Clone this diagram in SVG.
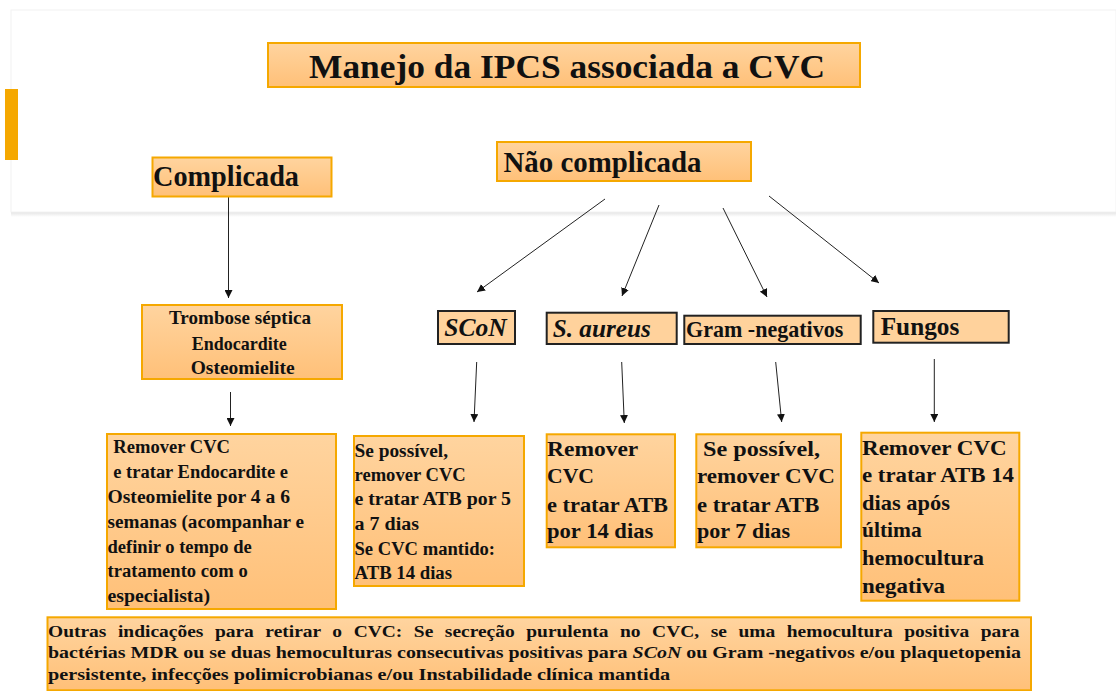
<svg xmlns="http://www.w3.org/2000/svg" width="1116" height="691" viewBox="0 0 1116 691">
<defs>
<linearGradient id="og" x1="0" y1="0" x2="0" y2="1">
<stop offset="0" stop-color="#FFD49F"/>
<stop offset="1" stop-color="#FFC078"/>
</linearGradient>
<linearGradient id="sh" x1="0" y1="0" x2="0" y2="1">
<stop offset="0" stop-color="#e4e4e4"/>
<stop offset="1" stop-color="#ffffff"/>
</linearGradient>
<marker id="ah" viewBox="0 0 10 10" refX="10" refY="5" markerWidth="8" markerHeight="8" markerUnits="userSpaceOnUse" orient="auto">
<path d="M0,0 L10,5 L0,10 z" fill="#111"/>
</marker>
<style>
.t{font-family:"Liberation Serif","Times New Roman",serif;font-weight:bold;fill:#111}
.bx{fill:url(#og);stroke:#F5A800;stroke-width:2}
.kb{fill:#FFD29C;stroke:#222;stroke-width:2}
.ln{stroke:#222;stroke-width:1;fill:none;marker-end:url(#ah)}
</style>
</defs>
<rect width="1116" height="691" fill="#fff"/>
<g id="panel">
<rect x="11" y="212" width="1105" height="5" fill="url(#sh)"/>
<rect x="11" y="10" width="1105" height="202" fill="#fff" stroke="#f2f2f2" stroke-width="1"/>
<rect x="5" y="89" width="13" height="71" fill="#F5A800"/>
</g>
<g id="connectors">
<line class="ln" x1="228.5" y1="197" x2="228.5" y2="298"/>
<line class="ln" x1="230.5" y1="392" x2="230.5" y2="426"/>
<line class="ln" x1="605" y1="199" x2="477" y2="292"/>
<line class="ln" x1="659" y1="205" x2="622" y2="296"/>
<line class="ln" x1="723" y1="208" x2="767" y2="297"/>
<line class="ln" x1="769" y1="196" x2="879" y2="283"/>
<line class="ln" x1="476.7" y1="362" x2="474" y2="422"/>
<line class="ln" x1="621.7" y1="362" x2="624.3" y2="423"/>
<line class="ln" x1="775.7" y1="362" x2="781.7" y2="422"/>
<line class="ln" x1="934.3" y1="359" x2="934.3" y2="422"/>
</g>
<g id="title">
<rect class="bx" x="268" y="43" width="592" height="44"/>
<text class="t" x="309" y="78" font-size="34" textLength="516" lengthAdjust="spacingAndGlyphs">Manejo da IPCS associada a CVC</text>
</g>
<g id="complicada">
<rect class="bx" x="152.5" y="157.5" width="179" height="39"/>
<text class="t" x="153" y="186" font-size="30" textLength="146" lengthAdjust="spacingAndGlyphs">Complicada</text>
</g>
<g id="nao-complicada">
<rect class="bx" x="497" y="142" width="254" height="39"/>
<text class="t" x="503.5" y="172" font-size="30" textLength="198" lengthAdjust="spacingAndGlyphs">Não complicada</text>
</g>
<g id="trombose">
<rect class="bx" x="142" y="305" width="200" height="74"/>
<text class="t" x="169" y="324" font-size="19" textLength="142" lengthAdjust="spacingAndGlyphs">Trombose séptica</text>
<text class="t" x="191.7" y="350" font-size="19" textLength="95" lengthAdjust="spacingAndGlyphs">Endocardite</text>
<text class="t" x="190.7" y="374" font-size="19" textLength="104" lengthAdjust="spacingAndGlyphs">Osteomielite</text>
</g>
<g id="complicada-conduta">
<rect class="bx" x="107" y="434" width="229" height="175"/>
<text class="t" font-size="18.5" x="113.3" y="452.7" textLength="116.7" lengthAdjust="spacingAndGlyphs">Remover CVC</text>
<text class="t" font-size="18.5" x="113.3" y="478.3" textLength="174.7" lengthAdjust="spacingAndGlyphs">e tratar Endocardite e</text>
<text class="t" font-size="18.5" x="107.5" y="503.3" textLength="182.5" lengthAdjust="spacingAndGlyphs">Osteomielite  por 4 a 6</text>
<text class="t" font-size="18.5" x="107.5" y="527.7" textLength="196.5" lengthAdjust="spacingAndGlyphs">semanas (acompanhar e</text>
<text class="t" font-size="18.5" x="107.5" y="553.3" textLength="144.2" lengthAdjust="spacingAndGlyphs">definir o tempo de</text>
<text class="t" font-size="18.5" x="107.5" y="577.3" textLength="140.2" lengthAdjust="spacingAndGlyphs">tratamento com o</text>
<text class="t" font-size="18.5" x="107.5" y="602.3" textLength="102.5" lengthAdjust="spacingAndGlyphs">especialista)</text>
</g>
<g id="scon">
<rect class="kb" x="438" y="311" width="77" height="33"/>
<text class="t" x="444.3" y="336" font-size="26" font-style="italic" textLength="62.4" lengthAdjust="spacingAndGlyphs">SCoN</text>
</g>
<g id="saureus">
<rect class="kb" x="546.7" y="312.7" width="130" height="31.3"/>
<text class="t" x="552.7" y="336.7" font-size="25" font-style="italic" textLength="98" lengthAdjust="spacingAndGlyphs">S. aureus</text>
</g>
<g id="gram">
<rect class="kb" x="684.3" y="315.7" width="176.4" height="28.3"/>
<text class="t" x="686" y="337" font-size="23" textLength="157.3" lengthAdjust="spacingAndGlyphs">Gram -negativos</text>
</g>
<g id="fungos">
<rect class="kb" x="873.3" y="311" width="135.4" height="31.7"/>
<text class="t" x="880.7" y="335" font-size="26" textLength="78.6" lengthAdjust="spacingAndGlyphs">Fungos</text>
</g>
<g id="scon-conduta">
<rect class="bx" x="354" y="436" width="170" height="150"/>
<text class="t" font-size="18.5" x="354.5" y="456.7" textLength="93.5" lengthAdjust="spacingAndGlyphs">Se possível,</text>
<text class="t" font-size="18.5" x="354.5" y="480.7" textLength="111.2" lengthAdjust="spacingAndGlyphs">remover CVC</text>
<text class="t" font-size="18.5" x="354.5" y="505" textLength="156.5" lengthAdjust="spacingAndGlyphs">e tratar ATB por   5</text>
<text class="t" font-size="18.5" x="354.5" y="530" textLength="64.5" lengthAdjust="spacingAndGlyphs">a 7   dias</text>
<text class="t" font-size="18.5" x="354.5" y="555" textLength="140.5" lengthAdjust="spacingAndGlyphs">Se CVC mantido:</text>
<text class="t" font-size="18.5" x="354.5" y="579.3" textLength="97.5" lengthAdjust="spacingAndGlyphs">ATB 14 dias</text>
</g>
<g id="saureus-conduta">
<rect class="bx" x="546.7" y="434.3" width="128.3" height="113"/>
<text class="t" font-size="22" x="547" y="455.7" textLength="91.3" lengthAdjust="spacingAndGlyphs">Remover</text>
<text class="t" font-size="22" x="547" y="483.3" textLength="47" lengthAdjust="spacingAndGlyphs">CVC</text>
<text class="t" font-size="22" x="547" y="511.7" textLength="121" lengthAdjust="spacingAndGlyphs">e tratar ATB</text>
<text class="t" font-size="22" x="547" y="538.3" textLength="106.3" lengthAdjust="spacingAndGlyphs">por 14 dias</text>
</g>
<g id="gram-conduta">
<rect class="bx" x="696.3" y="434.3" width="144.7" height="113"/>
<text class="t" font-size="22" x="703" y="455.7" textLength="117" lengthAdjust="spacingAndGlyphs">Se possível,</text>
<text class="t" font-size="22" x="697" y="483.3" textLength="138" lengthAdjust="spacingAndGlyphs">remover CVC</text>
<text class="t" font-size="22" x="697" y="511.7" textLength="122.3" lengthAdjust="spacingAndGlyphs">e tratar ATB</text>
<text class="t" font-size="22" x="697" y="538.3" textLength="93" lengthAdjust="spacingAndGlyphs">por 7 dias</text>
</g>
<g id="fungos-conduta">
<rect class="bx" x="861.3" y="432.7" width="158" height="168"/>
<text class="t" font-size="22" x="862" y="455" textLength="144.7" lengthAdjust="spacingAndGlyphs">Remover CVC</text>
<text class="t" font-size="22" x="862" y="482.3" textLength="152" lengthAdjust="spacingAndGlyphs">e tratar ATB 14</text>
<text class="t" font-size="22" x="862" y="510" textLength="88" lengthAdjust="spacingAndGlyphs">dias após</text>
<text class="t" font-size="22" x="862" y="537.3" textLength="59.7" lengthAdjust="spacingAndGlyphs">última</text>
<text class="t" font-size="22" x="862" y="565.3" textLength="122" lengthAdjust="spacingAndGlyphs">hemocultura</text>
<text class="t" font-size="22" x="862" y="592.7" textLength="83" lengthAdjust="spacingAndGlyphs">negativa</text>
</g>
<g id="outras-indicacoes">
<rect class="bx" x="47.5" y="617.3" width="983.5" height="73"/>
<text class="t" font-size="17.5" x="48" y="637.3" textLength="971.6" lengthAdjust="spacingAndGlyphs" word-spacing="6">Outras indicações para retirar o CVC: Se secreção purulenta no CVC, se uma hemocultura positiva para</text>
<text class="t" font-size="17.5" x="48" y="658.3" textLength="973" lengthAdjust="spacingAndGlyphs">bactérias MDR ou se duas hemoculturas consecutivas positivas para <tspan font-style="italic">SCoN</tspan> ou Gram -negativos e/ou plaquetopenia</text>
<text class="t" font-size="17.5" x="48" y="680" textLength="622" lengthAdjust="spacingAndGlyphs">persistente, infecções polimicrobianas  e/ou Instabilidade  clínica mantida</text>
</g>
</svg>
